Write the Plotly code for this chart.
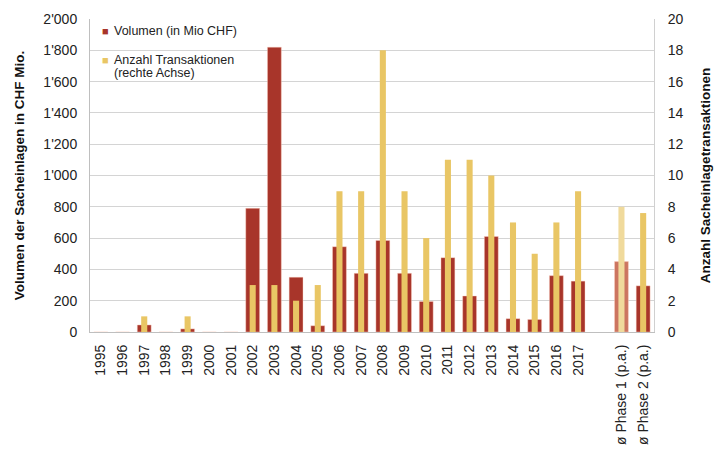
import plotly.graph_objects as go

categories = [str(y) for y in range(1995, 2018)] + ["", "ø Phase 1 (p.a.)", "ø Phase 2 (p.a.)"]
volumen = [0, 0, 45, 0, 20, 0, 0, 790, 1820, 350, 40, 545, 375, 585, 375, 195, 475, 230, 610, 85, 80, 360, 325, None, 450, 295]
anzahl = [0, 0, 1, 0, 1, 0, 0, 3, 3, 2, 3, 9, 9, 18, 9, 6, 11, 11, 10, 7, 5, 7, 9, None, 8, 7.6]
left_ticks = [0, 200, 400, 600, 800, 1000, 1200, 1400, 1600, 1800, 2000]
left_labels = ["0", "200", "400", "600", "800", "1'000", "1'200", "1'400", "1'600", "1'800", "2'000"]
right_ticks = list(range(0, 21, 2))
legend_lines = ["Volumen (in Mio CHF)", "Anzahl Transaktionen", "(rechte Achse)"]

RED = "#A8352A"
RED_LIGHT = "#CC7560"
YEL = "#E9C665"
YEL_LIGHT = "#F0DA9C"

xpos = list(range(len(categories)))
red_colors = [RED_LIGHT if c.startswith("ø Phase 1") else RED for c in categories]
yel_colors = [YEL_LIGHT if c.startswith("ø Phase 1") else YEL for c in categories]

fig = go.Figure()
fig.add_trace(go.Bar(
    x=xpos, y=volumen, name=legend_lines[0], width=0.64,
    marker=dict(color=red_colors, line=dict(color="rgba(255,215,200,0.7)", width=0.6)),
    yaxis="y", showlegend=False,
))
fig.add_trace(go.Bar(
    x=xpos, y=anzahl, name=legend_lines[1] + " " + legend_lines[2], width=0.28,
    marker=dict(color=yel_colors, line=dict(width=0)),
    yaxis="y2", showlegend=False,
))

# custom compact legend (small square markers like the reference)
lg_font = dict(size=12.5, color="#222222")
fig.add_annotation(xref="paper", yref="paper", x=0.027, y=0.962, xanchor="center", yanchor="middle",
                   text="■", showarrow=False, font=dict(size=11, color=RED))
fig.add_annotation(xref="paper", yref="paper", x=0.039, y=0.962, xanchor="left", yanchor="middle",
                   text=legend_lines[0], showarrow=False, font=lg_font)
fig.add_annotation(xref="paper", yref="paper", x=0.027, y=0.868, xanchor="center", yanchor="middle",
                   text="■", showarrow=False, font=dict(size=11, color=YEL))
fig.add_annotation(xref="paper", yref="paper", x=0.039, y=0.868, xanchor="left", yanchor="middle",
                   text=legend_lines[1], showarrow=False, font=lg_font)
fig.add_annotation(xref="paper", yref="paper", x=0.039, y=0.826, xanchor="left", yanchor="middle",
                   text=legend_lines[2], showarrow=False, font=lg_font)

font = "Liberation Sans, Arial, sans-serif"
fig.update_layout(
    width=717, height=450,
    margin=dict(l=90, r=63, t=19, b=118),
    paper_bgcolor="white", plot_bgcolor="white",
    barmode="overlay",
    font=dict(family=font, size=14, color="#222222"),
    xaxis=dict(
        tickmode="array", tickvals=xpos, ticktext=categories,
        tickangle=-90, range=[-0.5, len(categories) - 0.5],
        showgrid=False, showline=True, linecolor="#BFBFBF", linewidth=1,
        ticks="", ticklabelstandoff=6, tickfont=dict(size=14, color="#222222"),
        zeroline=False, automargin=False,
    ),
    yaxis=dict(
        range=[0, 2000], tickvals=left_ticks, ticktext=left_labels,
        showgrid=True, gridcolor="#D4D4D4", gridwidth=1,
        showline=True, linecolor="#BFBFBF", linewidth=1,
        ticks="", ticklabelstandoff=9, zeroline=False, automargin=False,
        title=dict(text="<b>Volumen der Sacheinlagen in CHF Mio.</b>", font=dict(size=13.5, color="#111111"), standoff=15),
        tickfont=dict(size=14, color="#222222"),
    ),
    yaxis2=dict(
        range=[0, 20], tickvals=right_ticks, overlaying="y", side="right",
        showgrid=False, showline=True, linecolor="#D0D0D0", linewidth=1,
        ticks="", ticklabelstandoff=10, zeroline=False, automargin=False,
        title=dict(text="<b>Anzahl Sacheinlagetransaktionen</b>", font=dict(size=13.5, color="#111111"), standoff=17),
        tickfont=dict(size=14, color="#222222"),
    ),
)
fig.write_html("out.html", config={"displayModeBar": False}, post_script="document.body.style.margin='0';")
